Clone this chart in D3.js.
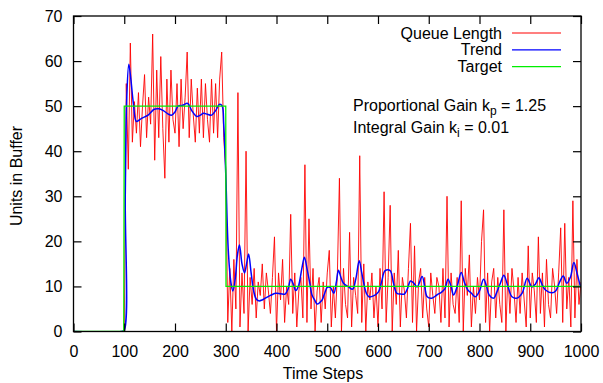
<!DOCTYPE html>
<html>
<head>
<meta charset="utf-8">
<script src="https://cdn.jsdelivr.net/npm/d3@7"></script>
<style>
html,body{margin:0;padding:0;background:#fff;}
svg{display:block;font-family:"Liberation Sans",Arial,Helvetica,sans-serif;}
</style>
</head>
<body>
<svg id="chart" width="603" height="383"></svg>
<script>
// ---- data ----
const xTicks = [0,100,200,300,400,500,600,700,800,900,1000];
const yTicks = [0,10,20,30,40,50,60,70];

// Queue length sampled every 4 time steps starting at step 100 (zero before)
const queueStart = 100;
const queueStep = 4;
const queueHigh = [
  0,55,36,64,42,51,44,53,41,50,
  57,43,52,46,66,38,58,43,61,45,
  34,56,42,58,47,44,55,41,56,45,
  52,62,43,56,48,42,54,44,56,43,
  55,47,42,56,44,55,43,56,62,43,
  36
];
const queueLow = [
  2,14,0,16,5,53,1,13,4,40,0,12,6,14,3,11,8,15,5,13,9,4,12,21,0,
  13,7,16,2,10,6,26,4,13,1,9,12,3,37,2,25,5,14,0,9,12,2,11,5,13,
  18,1,10,3,13,34,0,14,6,3,22,1,12,8,4,39,2,15,0,11,7,13,3,10,1,
  14,5,31,2,12,28,0,13,6,18,1,12,9,3,14,24,2,19,0,11,14,3,12,5,1,
  13,8,4,12,10,2,14,3,30,1,13,6,4,12,2,29,0,14,8,17,1,10,4,12,7,
  20,27,2,13,0,11,14,3,12,6,2,27,0,13,4,14,9,2,12,4,13,7,1,19,3,
  13,9,2,21,4,13,1,16,6,3,14,10,4,13,23,2,24,5,12,1,29,3,16,6,11
];

// Trend: [step, value]
const trendPoints = [
  [0,0],[95,0],[100,0.3],[102,30],[105,52],[109,59.3],[113,56],[118,50.6],[124,46.6],
  [134,47.3],[147,48],[159,49.3],[168,49.4],[177,49],[186,48.3],[193,48],[200,48.7],
  [206,50],[215,50.2],[225,50.6],[233,49],[243,47.7],[250,48],[256,48.4],[264,48.2],
  [272,48],[280,49],[288,50.4],[293,50],[296,46],[300,35],[305,18],[310,11],[314,9],
  [319,12],[323,17],[327,19.2],[332,15],[337,13],[341,15],[345,17.2],[350,13],[355,9],
  [360,7.2],[365,6.8],[372,7],[378,7.4],[388,8],[398,8.5],[408,8.4],[417,8.3],[423,9.5],
  [428,11.6],[433,10.5],[438,9.1],[443,10],[450,14],[455,16.5],[460,14],[465,11.1],
  [470,8.1],[475,7],[480,6.1],[485,6.4],[490,7],[495,8.5],[500,9.8],[506,9.8],[513,8.5],
  [518,11],[522,13.6],[527,12],[532,10.7],[542,9.9],[550,9.4],[556,11.5],[563,15.7],
  [568,13],[572,10.7],[577,8.5],[582,7.7],[591,7.9],[601,8.8],[607,11],[614,13.5],
  [624,13.5],[630,11],[637,8.5],[645,8.3],[652,8.3],[658,9.5],[664,11.2],[670,10.8],
  [677,9.9],[687,12.2],[692,10],[697,7.7],[706,7.4],[716,8.1],[726,8.8],[732,9.5],
  [738,11.6],[744,10],[749,8.1],[756,10],[764,13.1],[770,11],[777,9.2],[784,8.5],
  [792,7.7],[800,9],[808,11.6],[814,10],[819,8.1],[828,7.4],[835,9],[842,11],[848,12.5],
  [856,10],[864,7.7],[874,7.4],[884,8.5],[894,11.8],[903,9.9],[910,10.5],[917,11.9],
  [923,10.5],[930,9.2],[943,8.6],[950,9],[958,11],[965,12.3],[972,10.7],[979,12],
  [986,15.3],[992,13],[999,9.9]
];

// Target: [step, value]
const targetPoints = [[0,0],[99,0],[100,50],[300,50],[300.5,10],[1000,10]];

const seriesNames = ["Queue Length","Trend","Target"];
const seriesColors = ["#ff0000","#0000ff","#00ee00"];

// ---- build ----
const queuePoints = [];
for (let s = 0; s < queueStart; s += queueStep) queuePoints.push([s,0]);
queueHigh.concat(queueLow).forEach((v,i)=>queuePoints.push([queueStart + i*queueStep, v]));

const W = 603, H = 383;
const m = {left:73.5, right:W-581, top:16, bottom:H-331.5};
const svg = d3.select("#chart");
const x = d3.scaleLinear().domain([0,1000]).range([m.left, W-m.right]);
const y = d3.scaleLinear().domain([0,70]).range([H-m.bottom, m.top]);

const fontSize = 16;

svg.append("clipPath").attr("id","clip").append("rect")
  .attr("x",x(0)).attr("y",y(70)).attr("width",x(1000)-x(0)).attr("height",y(0)-y(70));

const line = d3.line().x(d=>x(d[0])).y(d=>y(d[1]));
const g = svg.append("g").attr("clip-path","url(#clip)");
g.append("path").datum(queuePoints).attr("d",line)
  .attr("fill","none").attr("stroke",seriesColors[0]).attr("stroke-width",0.9).attr("stroke-linejoin","round");
g.append("path").datum(trendPoints).attr("d",d3.line().x(d=>x(d[0])).y(d=>y(d[1])).curve(d3.curveCatmullRom))
  .attr("fill","none").attr("stroke",seriesColors[1]).attr("stroke-width",1.5);
g.append("path").datum(targetPoints).attr("d",line)
  .attr("fill","none").attr("stroke",seriesColors[2]).attr("stroke-width",1.3);

// axes (ticks inward on all sides)
const tl = 8;
const fmt = d3.format("d");
const ax = [
  d3.axisBottom(x).tickValues(xTicks).tickSizeInner(-tl).tickSizeOuter(0).tickPadding(tl+6).tickFormat(fmt),
  d3.axisTop(x).tickValues(xTicks).tickSizeInner(-tl).tickSizeOuter(0).tickFormat(""),
  d3.axisLeft(y).tickValues(yTicks).tickSizeInner(-tl).tickSizeOuter(0).tickPadding(tl+3).tickFormat(fmt),
  d3.axisRight(y).tickValues(yTicks).tickSizeInner(-tl).tickSizeOuter(0).tickFormat("")
];
const tr = [`translate(0,${y(0)})`,`translate(0,${y(70)})`,`translate(${x(0)},0)`,`translate(${x(1000)},0)`];
ax.forEach((a,i)=>{
  const ag = svg.append("g").attr("transform",tr[i]).call(a);
  ag.select(".domain").remove();
  ag.selectAll("line").attr("stroke","#000").attr("stroke-width",1.2);
  ag.selectAll("text").attr("font-size",fontSize).attr("fill","#000")
    .attr("font-family","'Liberation Sans',Arial,sans-serif");
});
svg.append("rect").attr("x",x(0)).attr("y",y(70)).attr("width",x(1000)-x(0)).attr("height",y(0)-y(70))
  .attr("fill","none").attr("stroke","#000").attr("stroke-width",1.3);

// axis labels
svg.append("text").attr("x",323).attr("y",379).attr("text-anchor","middle")
  .attr("font-size",fontSize).text("Time Steps");
svg.append("text").attr("transform","translate(22,176) rotate(-90)").attr("text-anchor","middle")
  .attr("font-size",fontSize).text("Units in Buffer");

// legend
const lg = svg.append("g");
seriesNames.forEach((n,i)=>{
  const yy = 33 + i*16.8;
  lg.append("text").attr("x",502).attr("y",yy+5.5).attr("text-anchor","end")
    .attr("font-size",fontSize).text(n);
  lg.append("line").attr("x1",512).attr("x2",561).attr("y1",yy).attr("y2",yy)
    .attr("stroke",seriesColors[i]).attr("stroke-width",1.2);
});

// annotation
const a1 = svg.append("text").attr("x",353).attr("y",111).attr("font-size",fontSize);
a1.append("tspan").text("Proportional Gain k");
a1.append("tspan").attr("font-size",12).attr("dy",4).text("p");
a1.append("tspan").attr("dy",-4).text(" = 1.25");
const a2 = svg.append("text").attr("x",353).attr("y",133).attr("font-size",fontSize);
a2.append("tspan").text("Integral Gain k");
a2.append("tspan").attr("font-size",12).attr("dy",4).text("i");
a2.append("tspan").attr("dy",-4).text(" = 0.01");
</script>
</body>
</html>
